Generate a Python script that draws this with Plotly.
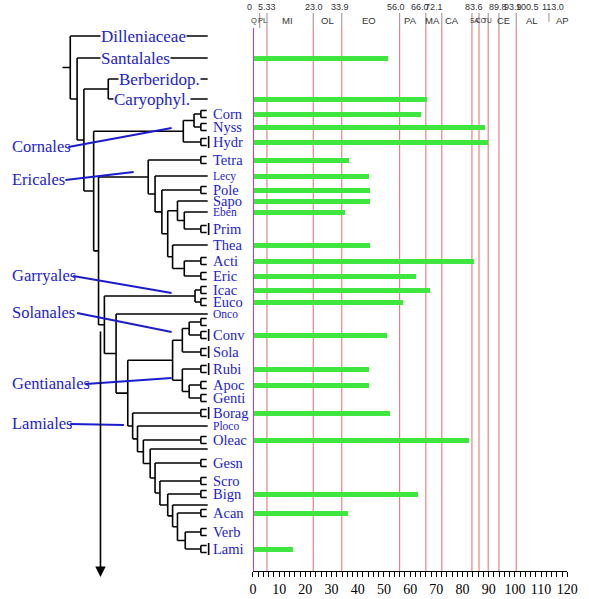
import plotly.graph_objects as go

# ---------------- data ----------------
leaf_names = ["Dilleniaceae", "Santalales", "Berberidop.", "Caryophyl.", "Corn", "Nyss", "Hydr",
              "Tetra", "Lecy", "Pole", "Sapo", "Eben", "Prim", "Thea", "Acti", "Eric", "Icac",
              "Euco", "Onco", "_s1", "Conv", "Sola", "Rubi", "Apoc", "Genti", "Borag", "Ploco",
              "Oleac", "_l1", "Gesn", "Scro", "Bign", "_l2", "Acan", "Verb", "Lami"]
leaf_rows = [36, 58, 79, 99, 114, 127, 142, 160, 176, 190, 201, 212, 229, 245, 261, 276, 290,
             302, 314, 322, 335, 352, 369, 385, 398, 413, 426, 440, 449, 463, 481, 494, 505, 513,
             532, 549]
leaf_kind = ["top", "top", "top", "top", "fork", "fork", "bracket", "fork", "line", "fork", "line",
             "line", "bracket", "line", "fork", "fork", "fork", "fork", "line", "fork", "bracket",
             "bracket", "bracket", "fork", "fork", "bracket", "line", "fork", "line", "fork", "fork",
             "fork", "line", "fork", "fork", "bracket"]
small_labels = ["Lecy", "Eben", "Onco", "Ploco"]
top_label_x = {"Dilleniaceae": 98, "Santalales": 98, "Berberidop.": 117, "Caryophyl.": 112}

bar_taxa = ["Santalales", "Caryophyl.", "Corn", "Nyss", "Hydr", "Tetra", "Lecy", "Pole", "Sapo",
            "Eben", "Thea", "Acti", "Eric", "Icac", "Euco", "Conv", "Rubi", "Apoc", "Borag",
            "Oleac", "Bign", "Acan", "Lami"]
bar_values = [51.5, 66.4, 64.0, 88.7, 89.8, 36.6, 44.4, 44.8, 44.8, 35.1, 44.8, 84.2, 62.3, 67.5,
              57.4, 51.1, 44.4, 44.4, 52.2, 82.3, 63.0, 36.2, 15.4]

boundary_ages = [2.58, 5.33, 23.0, 33.9, 56.0, 66.0, 72.1, 83.6, 86.3, 89.8, 93.9, 100.5, 113.0]
red_line_ages = [5.33, 23.0, 33.9, 56.0, 66.0, 72.1, 83.6, 86.3, 89.8, 93.9, 100.5]
age_label_text = ["0", "5.33", "23.0", "33.9", "56.0", "66.0", "72.1", "83.6", "89.8", "93.9",
                  "100.5", "113.0"]
age_label_pos = [0, 5.5, 23.2, 33.3, 54.6, 63.8, 69.2, 84.4, 93.6, 99.4, 105.0, 114.7]
period_names = ["Q", "PL", "MI", "OL", "EO", "PA", "MA", "CA", "SA", "CO", "TU", "CE", "AL", "AP"]
period_label_pos = [0.5, 3.7, 13.2, 28.4, 44.4, 60.0, 68.6, 76.0, 84.6, 87.0, 89.6, 95.7, 106.5, 118.0]
period_font = [7.5, 7.5, 9.5, 9.5, 9.5, 9.5, 9.5, 9.5, 6.5, 6.5, 6.5, 9.5, 9.5, 9.5]

# cladogram topology: (node depth, [children]); strings are leaves
ERIC = (148, ["Tetra", (155, ["Lecy", (162, ["Pole", (168, [
    (178, ["Sapo", (185, ["Eben", "Prim"])]),
    (173, ["Thea", (185, ["Acti", "Eric"])])])])])])
SOLGENT = (173, [(183, [(190, ["_s1", "Conv"]), "Sola"]),
                 (183, ["Rubi", (190, ["Apoc", "Genti"])])])
LAM = (132, ["Borag", (137, ["Ploco", (143, ["Oleac", (150, ["_l1", (155, ["Gesn", (160, ["Scro",
        (168, ["Bign", (173, ["_l2", (178, ["Acan", (186, ["Verb", "Lami"])])])])])])])])])])
TREE = (68, ["Dilleniaceae", (75, ["Santalales", (82, [
    (107, ["Berberidop.", "Caryophyl."]),
    (92, [(184, [(195, ["Corn", "Nyss"]), "Hydr"]),
          (97, [ERIC, (103, [(196, ["Icac", "Euco"]), (115, ["Onco", (127, [SOLGENT, LAM])])])])])])])])

clade_names = ["Cornales", "Ericales", "Garryales", "Solanales", "Gentianales", "Lamiales"]
clade_text_y = [146, 179, 275, 312, 383, 423]
clade_text_end = [66, 63, 71, 75, 84, 68]
clade_target = [(172, 128), (133, 172), (172, 293), (172, 332), (172, 378), (123, 425)]

# ---------------- build tree segments ----------------
row = dict(zip(leaf_names, leaf_rows))
kind = dict(zip(leaf_names, leaf_kind))
sx, sy = [], []


def seg(x0, y0, x1, y1):
    sx.extend([x0, x1, None])
    sy.extend([y0, y1, None])


FORK, TIP = 202, 208


def draw_leaf(name, px):
    y = row[name]
    k = kind[name]
    if k in ("top", "line"):
        seg(px, y, 209, y)
    else:
        seg(px, y, FORK, y)
        seg(FORK, y - 3.5, FORK, y + 3.5)
        seg(FORK, y - 3.5, TIP, y - 3.5)
        seg(FORK, y + 3.5, TIP, y + 3.5)
        if k == "bracket":
            seg(210, y - 6, 210, y + 6)


def walk(node):
    if isinstance(node, str):
        return row[node], None
    x, kids = node
    ys = []
    for k in kids:
        ky, kx = walk(k)
        ys.append(ky)
        if kx is None:
            draw_leaf(k, x)
        else:
            seg(x, ky, kx, ky)
    seg(x, min(ys), x, max(ys))
    return (min(ys) + max(ys)) / 2, x


root_y, root_x = walk(TREE)
seg(60, root_y, root_x, root_y)

W, H = 589, 599
fig = go.Figure()

fig.add_trace(go.Scatter(x=sx, y=sy, mode="lines", xaxis="x2", yaxis="y",
                         line=dict(color="black", width=1.6), hoverinfo="skip", showlegend=False))

# leader lines for clade labels
lx, ly = [], []
for nm, ty, te, (tx2, ty2) in zip(clade_names, clade_text_y, clade_text_end, clade_target):
    lx.extend([te, tx2, None])
    ly.extend([ty + 1, ty2, None])
fig.add_trace(go.Scatter(x=lx, y=ly, mode="lines", xaxis="x2", yaxis="y",
                         line=dict(color="#1c1ccf", width=1.8), hoverinfo="skip", showlegend=False))

# bars
fig.add_trace(go.Bar(x=bar_values, y=[row[t] for t in bar_taxa], orientation="h", width=5,
                     marker=dict(color="#3fe63f", line=dict(width=0)), xaxis="x", yaxis="y",
                     showlegend=False))

shapes = []
for a in red_line_ages:
    shapes.append(dict(type="line", xref="x", yref="y", x0=a, x1=a, y0=28, y1=571,
                       line=dict(color="#e36a6a", width=1), layer="below"))
for a in boundary_ages:
    shapes.append(dict(type="line", xref="x", yref="y", x0=a, x1=a, y0=13, y1=28,
                       line=dict(color="#a08888", width=1, dash="dash" if a == 113.0 else "solid"),
                       layer="below"))
shapes.append(dict(type="line", xref="x", yref="y", x0=0, x1=0, y0=28, y1=571,
                   line=dict(color="#cc33cc", width=2), layer="above"))

annotations = []
for nm, y, k in zip(leaf_names, leaf_rows, leaf_kind):
    if nm.startswith("_"):
        continue
    if k == "top":
        annotations.append(dict(x=top_label_x[nm], y=y, xref="x2", yref="y", text=nm,
                                showarrow=False, xanchor="left", yanchor="middle",
                                bgcolor="white", borderpad=0,
                                font=dict(family="Liberation Serif", size=17, color="#2222cc")))
    else:
        size = 11.5 if nm in small_labels else 14.5
        annotations.append(dict(x=212, y=y, xref="x2", yref="y", text=nm, showarrow=False,
                                xanchor="left", yanchor="middle",
                                font=dict(family="Liberation Serif", size=size, color="#2222cc")))
for nm, ty in zip(clade_names, clade_text_y):
    annotations.append(dict(x=6, y=ty, xref="x2", yref="y", text=nm, showarrow=False,
                            xanchor="left", yanchor="middle",
                            font=dict(family="Liberation Serif", size=16.5, color="#2222cc")))
annotations.append(dict(x=99, y=577, ax=99, ay=330, xref="x2", yref="y", axref="x2", ayref="y",
                        showarrow=True, arrowhead=2, arrowsize=1.3, arrowwidth=1.6,
                        arrowcolor="black", text=""))
for v, t in zip(age_label_pos, age_label_text):
    annotations.append(dict(x=v, y=7, xref="x", yref="y", text=t, showarrow=False,
                            xanchor="right" if v == 0 else "center", yanchor="middle",
                            xshift=1 if v == 0 else 0,
                            font=dict(family="Liberation Sans", size=9, color="#333333")))
for p, c, fs in zip(period_names, period_label_pos, period_font):
    annotations.append(dict(x=c, y=20, xref="x", yref="y", text=p, showarrow=False,
                            xanchor="center", yanchor="middle",
                            font=dict(family="Liberation Sans", size=fs, color="#333333")))

fig.update_layout(
    width=W, height=H, margin=dict(l=0, r=0, t=0, b=0),
    paper_bgcolor="white", plot_bgcolor="rgba(0,0,0,0)",
    bargap=0, showlegend=False,
    shapes=shapes, annotations=annotations,
    xaxis=dict(domain=[255.5 / W, 578 / W], range=[0, 120], anchor="free", position=28 / H,
               showgrid=False, zeroline=False, showline=True, linecolor="black", linewidth=1,
               tickmode="linear", tick0=0, dtick=10, ticks="outside", ticklen=5, tickwidth=1,
               tickcolor="black",
               minor=dict(dtick=2, ticks="outside", ticklen=5, tickcolor="black", tickwidth=1),
               tickfont=dict(family="Liberation Serif", size=14, color="black")),
    xaxis2=dict(domain=[0, 250 / W], range=[0, 250], anchor="y", visible=False),
    yaxis=dict(domain=[0, 1], range=[599, 0], visible=False),
)

fig.write_html("out.html", config={"displayModeBar": False},
               post_script="document.body.style.margin='0';")
